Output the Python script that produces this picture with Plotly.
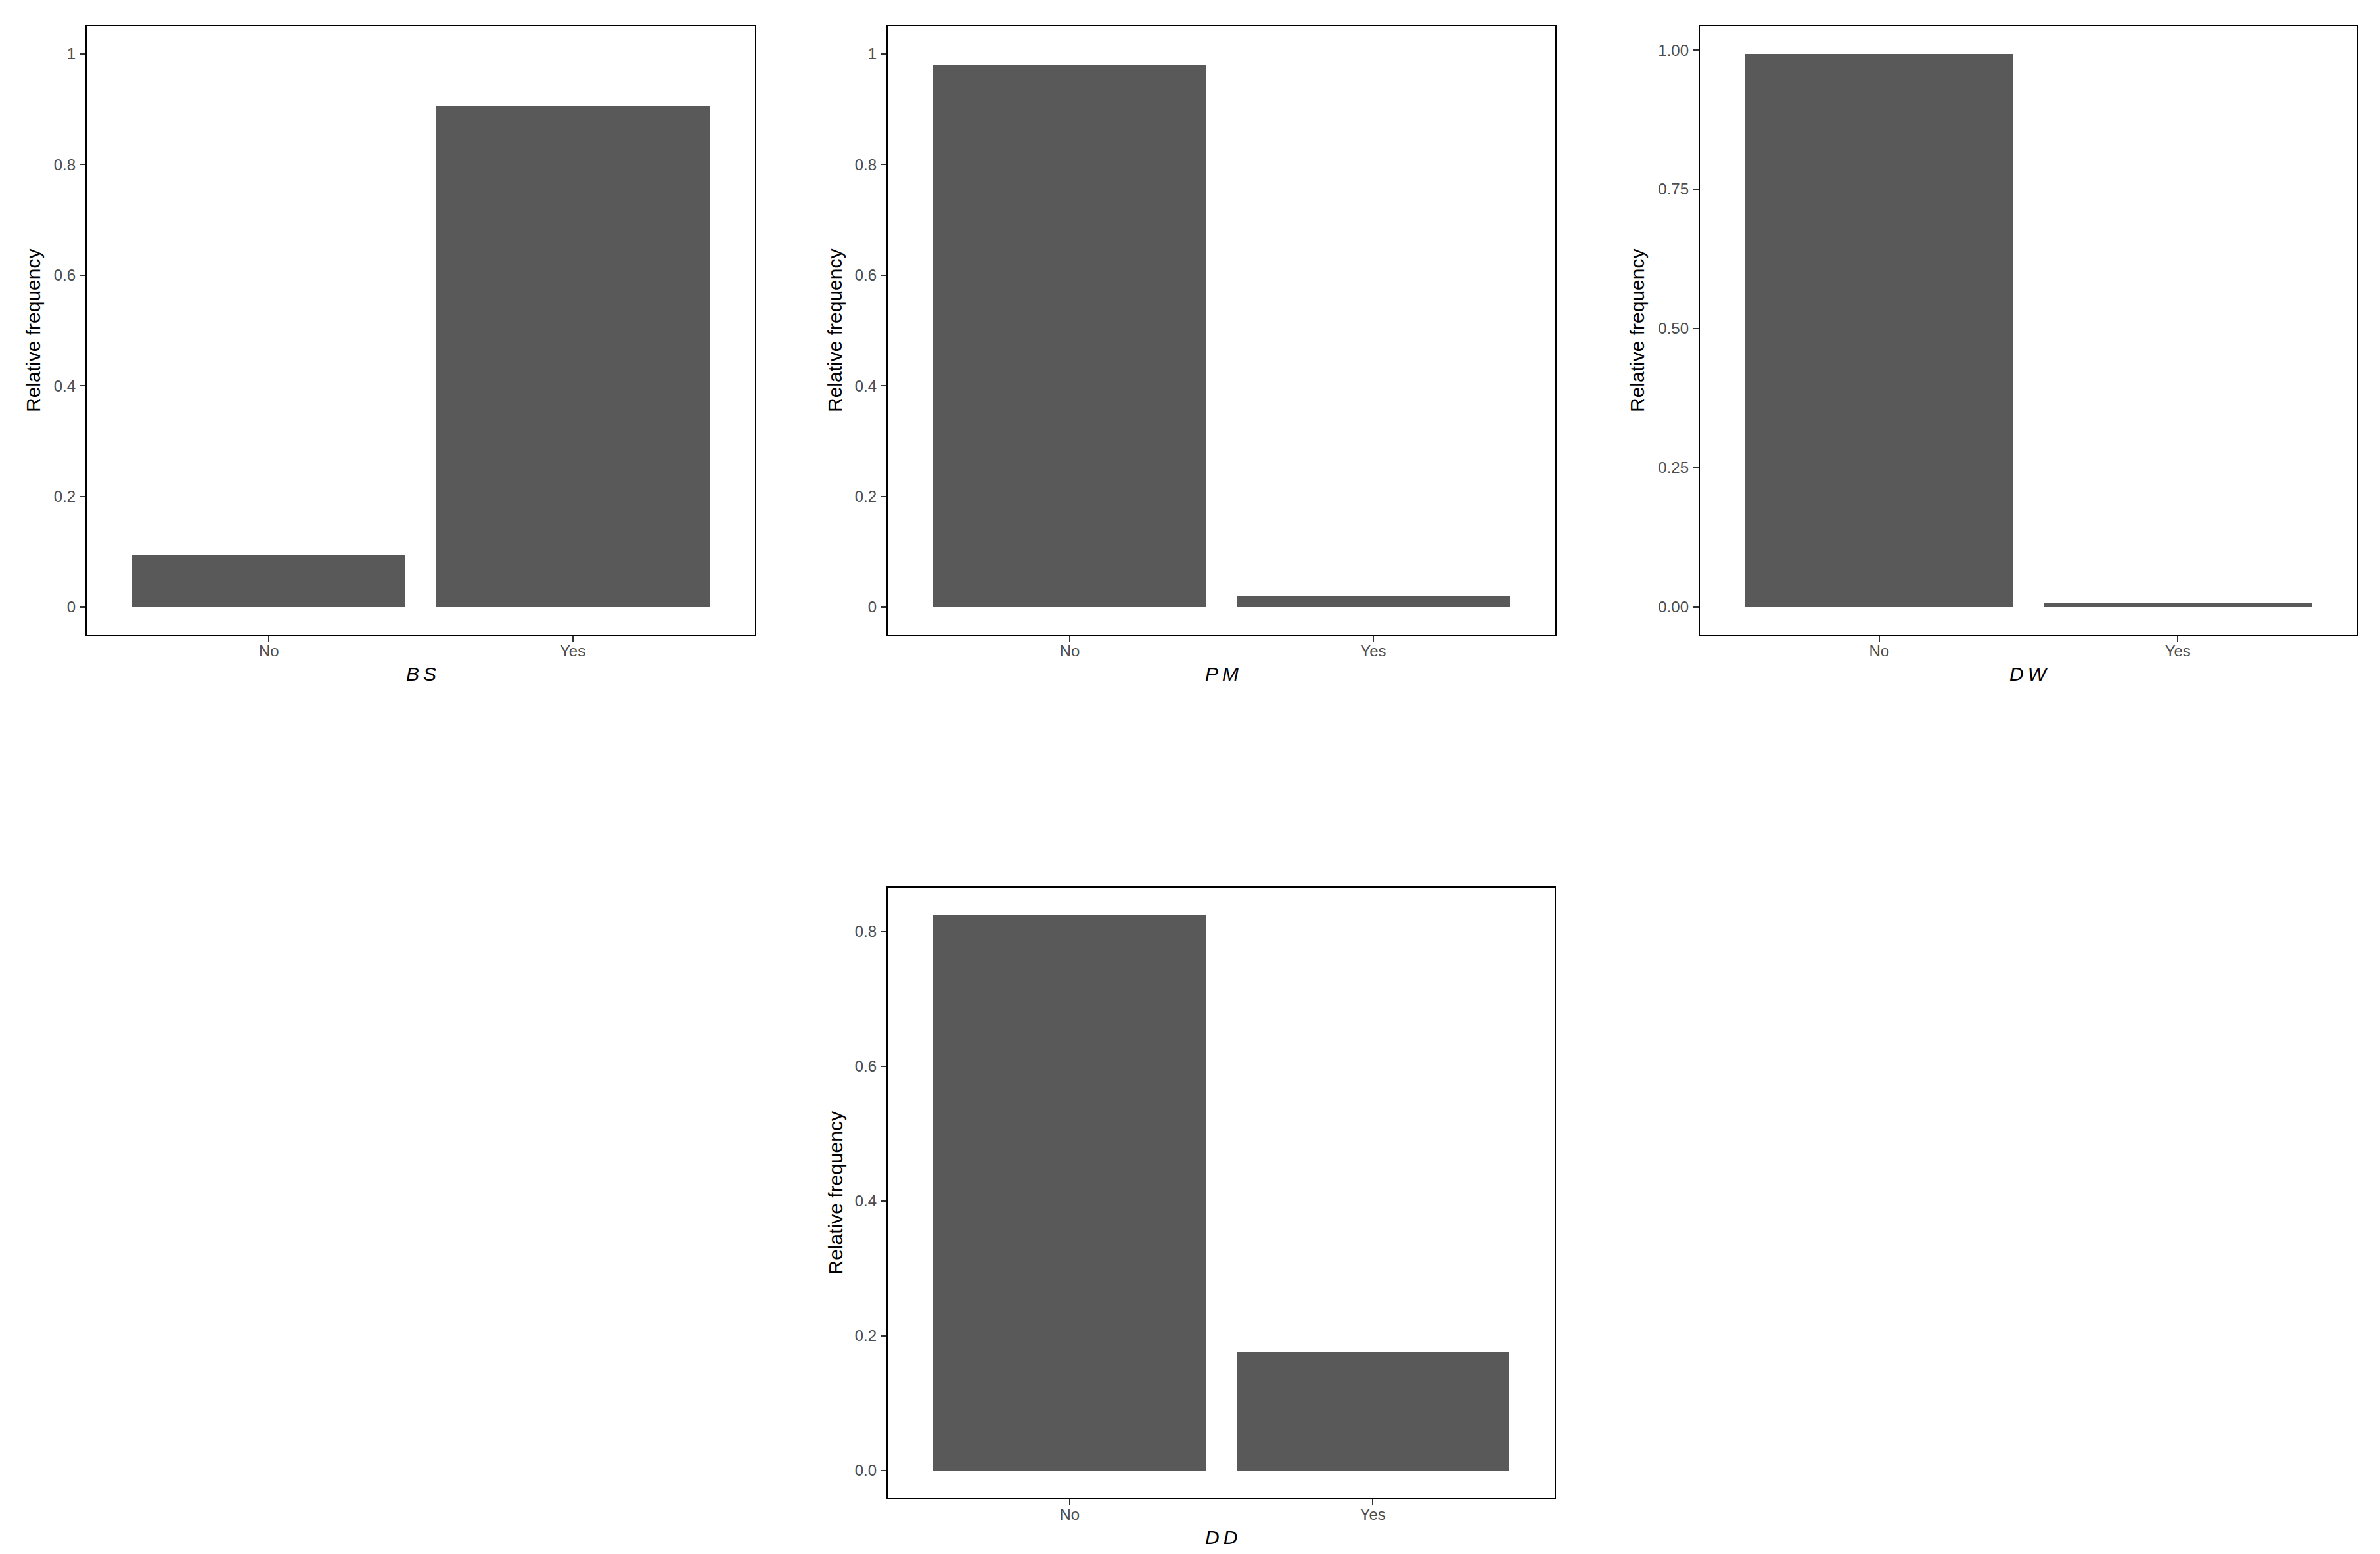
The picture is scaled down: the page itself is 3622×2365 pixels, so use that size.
import plotly.graph_objects as go

# ---- data ----
categories = ["No", "Yes"]
bs_values = [0.095, 0.905]
pm_values = [0.980, 0.020]
dw_values = [0.993, 0.007]
dd_values = [0.824, 0.176]

var_names = ["BS", "PM", "DW", "DD"]
y_title = "Relative frequency"

bs_tickvals = [0, 0.2, 0.4, 0.6, 0.8, 1]
bs_ticktext = ["0", "0.2", "0.4", "0.6", "0.8", "1"]
pm_tickvals = [0, 0.2, 0.4, 0.6, 0.8, 1]
pm_ticktext = ["0", "0.2", "0.4", "0.6", "0.8", "1"]
dw_tickvals = [0, 0.25, 0.5, 0.75, 1.0]
dw_ticktext = ["0.00", "0.25", "0.50", "0.75", "1.00"]
dd_tickvals = [0, 0.2, 0.4, 0.6, 0.8]
dd_ticktext = ["0.0", "0.2", "0.4", "0.6", "0.8"]

# ---- layout geometry (px, in page coordinates) ----
PAGE_OFF = 8  # default body margin of the html page
W, H = 3622 - 2 * PAGE_OFF, 2365 - 2 * PAGE_OFF
# left, right, top, bottom of each panel box (page px)
boxes = [
    (132, 1149, 40, 966),
    (1351, 2367, 40, 966),
    (2587, 3587, 40, 966),
    (1351, 2366, 1351, 2280),
]
title_offsets = [82, 81, 96, 80]  # distance from axis line to y-title centre

panels = [
    (bs_values, bs_tickvals, bs_ticktext, "fixed"),
    (pm_values, pm_tickvals, pm_ticktext, "fixed"),
    (dw_values, dw_tickvals, dw_ticktext, "auto"),
    (dd_values, dd_tickvals, dd_ticktext, "auto"),
]

FONT = "Liberation Sans, Arial, Helvetica, sans-serif"
BAR_COLOR = "#595959"


def px_x(v):
    return (v - PAGE_OFF) / W


def px_y(v):
    return 1 - (v - PAGE_OFF) / H


fig = go.Figure()
annotations = []
layout_axes = {}

for i, ((vals, tv, tt, mode), box, name, toff) in enumerate(
        zip(panels, boxes, var_names, title_offsets)):
    n = "" if i == 0 else str(i + 1)
    xa, ya = "x" + n, "y" + n
    l, r, t, b = box
    xdom = [px_x(l), px_x(r)]
    ydom = [px_y(b), px_y(t)]
    if mode == "fixed":
        yr = [-0.05, 1.05]
    else:
        m = max(vals)
        yr = [-0.05 * m, 1.05 * m]

    fig.add_trace(go.Bar(
        x=categories, y=vals, width=0.9,
        marker=dict(color=BAR_COLOR, line=dict(width=0)),
        xaxis=xa, yaxis=ya, showlegend=False, hoverinfo="x+y",
    ))

    common = dict(
        showline=True, mirror=True, linecolor="black", linewidth=2.3,
        ticks="outside", ticklen=9, tickwidth=2, tickcolor="#333333",
        showgrid=False, zeroline=False,
        tickfont=dict(family=FONT, size=24, color="#4D4D4D"),
    )
    layout_axes["xaxis" + n] = dict(
        domain=xdom, anchor=ya, type="category",
        range=[-0.6, 1.6], ticklabelstandoff=-7, **common)
    layout_axes["yaxis" + n] = dict(
        domain=ydom, anchor=xa, range=yr,
        tickvals=tv, ticktext=tt, ticklabelstandoff=1, **common)

    # axis titles
    annotations.append(dict(
        text=y_title, textangle=-90, xref="paper", yref="paper",
        x=px_x(l - toff), y=px_y((t + b) / 2),
        xanchor="center", yanchor="middle", showarrow=False,
        font=dict(family=FONT, size=30, color="black")))
    annotations.append(dict(
        text="<i>" + name[0] + "\u2009" + name[1] + "</i>",
        xref="paper", yref="paper",
        x=px_x((l + r) / 2), y=px_y(b + 59),
        xanchor="center", yanchor="middle", showarrow=False,
        font=dict(family=FONT, size=30, color="black")))

fig.update_layout(
    width=W, height=H,
    margin=dict(l=0, r=0, t=0, b=0),
    paper_bgcolor="white", plot_bgcolor="white",
    bargap=0, annotations=annotations,
    **layout_axes,
)

fig.write_html("out.html")
